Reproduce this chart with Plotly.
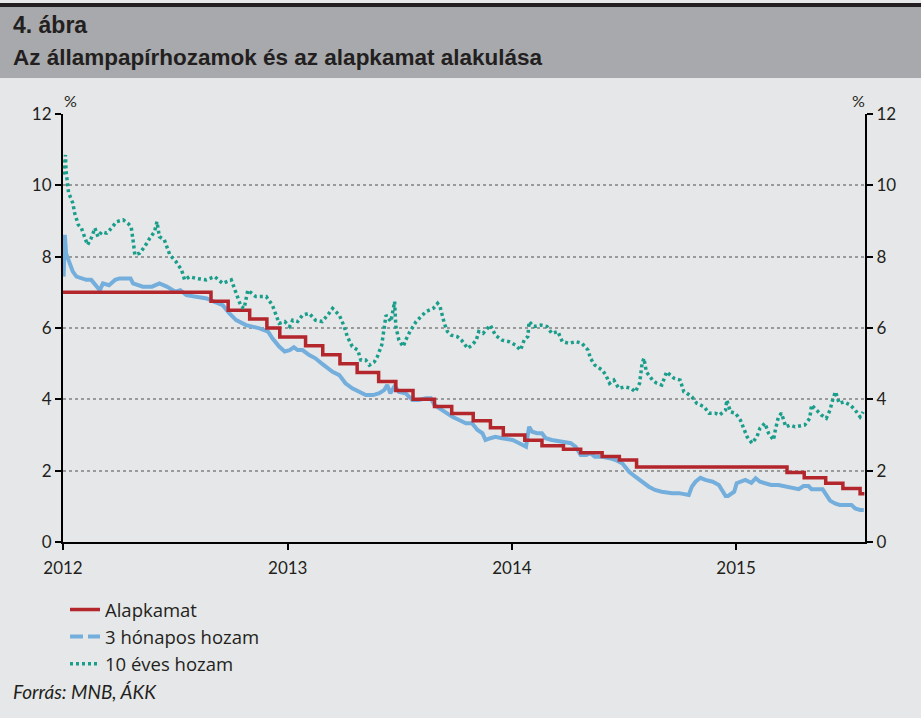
import plotly.graph_objects as go

# ---------------- data ----------------
base_dates = ["2012-01-01", "2012-08-29", "2012-09-26", "2012-10-31", "2012-11-28", "2012-12-19",
              "2013-01-30", "2013-02-27", "2013-03-27", "2013-04-24", "2013-05-29", "2013-06-26",
              "2013-07-24", "2013-08-28", "2013-09-25", "2013-10-30", "2013-11-27", "2013-12-18",
              "2014-01-22", "2014-02-19", "2014-03-26", "2014-04-23", "2014-05-28", "2014-06-25",
              "2014-07-23", "2015-03-25", "2015-04-22", "2015-05-27", "2015-06-24", "2015-07-22",
              "2015-07-29"]
base_rate = [7.00, 6.75, 6.50, 6.25, 6.00, 5.75,
             5.50, 5.25, 5.00, 4.75, 4.50, 4.25,
             4.00, 3.80, 3.60, 3.40, 3.20, 3.00,
             2.85, 2.70, 2.60, 2.50, 2.40, 2.30,
             2.10, 1.95, 1.80, 1.65, 1.50, 1.35,
             1.35]

t3m_dates = ["2012-01-02", "2012-01-04", "2012-01-06", "2012-01-12", "2012-01-17", "2012-01-23",
             "2012-01-31", "2012-02-08", "2012-02-16", "2012-02-24", "2012-03-01", "2012-03-06",
             "2012-03-16", "2012-03-26", "2012-04-02", "2012-04-20", "2012-04-24", "2012-05-10",
             "2012-05-25", "2012-06-06", "2012-06-18", "2012-07-02", "2012-07-10", "2012-07-20",
             "2012-08-06", "2012-08-22", "2012-09-03", "2012-09-17", "2012-09-28", "2012-10-09",
             "2012-10-25", "2012-11-16", "2012-11-30", "2012-12-07", "2012-12-18", "2012-12-27",
             "2013-01-04", "2013-01-11", "2013-01-17", "2013-01-25", "2013-02-05", "2013-02-15",
             "2013-02-25", "2013-03-07", "2013-03-15", "2013-03-26", "2013-04-05", "2013-04-16",
             "2013-04-26", "2013-05-08", "2013-05-20", "2013-05-30", "2013-06-07", "2013-06-12",
             "2013-06-17", "2013-06-24", "2013-07-01", "2013-07-12", "2013-07-23", "2013-08-02",
             "2013-08-14", "2013-08-22", "2013-08-28", "2013-09-05", "2013-09-16", "2013-09-26",
             "2013-10-07", "2013-10-18", "2013-10-28", "2013-11-06", "2013-11-14", "2013-11-19",
             "2013-11-27", "2013-12-05", "2013-12-16", "2014-01-02", "2014-01-13", "2014-01-24",
             "2014-01-29", "2014-02-03", "2014-02-11", "2014-02-19", "2014-02-25", "2014-03-07",
             "2014-03-24", "2014-04-07", "2014-04-15", "2014-04-23", "2014-05-02", "2014-05-09",
             "2014-05-16", "2014-05-28", "2014-06-09", "2014-06-19", "2014-06-30", "2014-07-11",
             "2014-07-21", "2014-08-01", "2014-08-12", "2014-08-22", "2014-09-02", "2014-09-19",
             "2014-09-30", "2014-10-16", "2014-10-21", "2014-10-27", "2014-11-04", "2014-11-12",
             "2014-11-24", "2014-12-04", "2014-12-09", "2014-12-15", "2014-12-19", "2014-12-29",
             "2015-01-02", "2015-01-08", "2015-01-16", "2015-01-26", "2015-02-02", "2015-02-09",
             "2015-02-17", "2015-02-27", "2015-03-11", "2015-03-23", "2015-04-02", "2015-04-13",
             "2015-04-21", "2015-04-29", "2015-05-04", "2015-05-22", "2015-05-28", "2015-06-03",
             "2015-06-11", "2015-06-19", "2015-07-08", "2015-07-14", "2015-07-22", "2015-07-28"]
t3m_yield = [7.44, 8.61, 8.09, 7.81, 7.58, 7.44,
             7.39, 7.35, 7.35, 7.20, 7.06, 7.25,
             7.20, 7.35, 7.39, 7.39, 7.25, 7.16,
             7.16, 7.25, 7.16, 7.02, 7.06, 6.92,
             6.88, 6.83, 6.74, 6.64, 6.41, 6.22,
             6.08, 5.99, 5.90, 5.71, 5.48, 5.34,
             5.38, 5.46, 5.38, 5.38, 5.24, 5.15,
             5.01, 4.87, 4.77, 4.68, 4.45, 4.31,
             4.21, 4.12, 4.12, 4.17, 4.26, 4.40,
             4.17, 4.37, 4.21, 4.17, 3.98, 3.98,
             4.03, 4.03, 3.84, 3.75, 3.65, 3.51,
             3.42, 3.33, 3.33, 3.14, 3.05, 2.86,
             2.91, 2.95, 2.91, 2.86, 2.77, 2.67,
             3.23, 3.09, 3.05, 3.05, 2.91, 2.86,
             2.81, 2.77, 2.67, 2.44, 2.44, 2.49,
             2.39, 2.39, 2.35, 2.30, 2.20, 1.97,
             1.83, 1.69, 1.55, 1.46, 1.41, 1.37,
             1.37, 1.32, 1.55, 1.69, 1.80, 1.74,
             1.69, 1.60, 1.46, 1.29, 1.29, 1.41,
             1.65, 1.69, 1.74, 1.66, 1.79, 1.69,
             1.66, 1.60, 1.60, 1.55, 1.53, 1.48,
             1.57, 1.57, 1.48, 1.48, 1.32, 1.16,
             1.08, 1.04, 1.04, 0.94, 0.90, 0.90]

t10y_dates = ["2012-01-02", "2012-01-03", "2012-01-05", "2012-01-06", "2012-01-09", "2012-01-10",
              "2012-01-17", "2012-01-20", "2012-01-26", "2012-01-31", "2012-02-05", "2012-02-10",
              "2012-02-16", "2012-02-22", "2012-02-27", "2012-03-04", "2012-03-12", "2012-03-20",
              "2012-03-28", "2012-04-08", "2012-04-16", "2012-04-21", "2012-04-24", "2012-04-27",
              "2012-05-05", "2012-05-13", "2012-05-21", "2012-05-29", "2012-06-02", "2012-06-06",
              "2012-06-14", "2012-06-23", "2012-07-03", "2012-07-12", "2012-07-17", "2012-07-25",
              "2012-08-05", "2012-08-21", "2012-09-04", "2012-09-17", "2012-10-01", "2012-10-09",
              "2012-10-17", "2012-10-22", "2012-10-28", "2012-11-10", "2012-11-27", "2012-12-07",
              "2012-12-13", "2012-12-18", "2012-12-27", "2013-01-04", "2013-01-09", "2013-01-17",
              "2013-01-25", "2013-02-05", "2013-02-15", "2013-02-26", "2013-03-07", "2013-03-15",
              "2013-03-26", "2013-04-03", "2013-04-08", "2013-04-16", "2013-04-25", "2013-04-30",
              "2013-05-08", "2013-05-14", "2013-05-22", "2013-05-27", "2013-06-03", "2013-06-07",
              "2013-06-10", "2013-06-18", "2013-06-24", "2013-06-26", "2013-07-01", "2013-07-08",
              "2013-07-12", "2013-07-19", "2013-07-29", "2013-08-06", "2013-08-14", "2013-08-26",
              "2013-09-02", "2013-09-06", "2013-09-13", "2013-09-18", "2013-09-24", "2013-10-04",
              "2013-10-11", "2013-10-21", "2013-10-28", "2013-11-04", "2013-11-08", "2013-11-15",
              "2013-11-27", "2013-12-05", "2013-12-16", "2013-12-27", "2014-01-07", "2014-01-15",
              "2014-01-21", "2014-01-27", "2014-01-29", "2014-02-06", "2014-02-17", "2014-02-27",
              "2014-03-07", "2014-03-17", "2014-03-24", "2014-04-04", "2014-04-15", "2014-04-25",
              "2014-05-05", "2014-05-09", "2014-05-16", "2014-05-28", "2014-06-03", "2014-06-09",
              "2014-06-16", "2014-06-24", "2014-07-04", "2014-07-14", "2014-07-21", "2014-07-28",
              "2014-08-01", "2014-08-04", "2014-08-08", "2014-08-18", "2014-08-25", "2014-09-02",
              "2014-09-10", "2014-09-22", "2014-10-02", "2014-10-08", "2014-10-13", "2014-10-21",
              "2014-10-29", "2014-11-10", "2014-11-18", "2014-11-28", "2014-12-05", "2014-12-15",
              "2014-12-17", "2014-12-23", "2014-12-31", "2015-01-08", "2015-01-13", "2015-01-19",
              "2015-01-27", "2015-02-04", "2015-02-09", "2015-02-17", "2015-02-23", "2015-03-03",
              "2015-03-06", "2015-03-11", "2015-03-16", "2015-03-23", "2015-03-30", "2015-04-07",
              "2015-04-23", "2015-05-01", "2015-05-04", "2015-05-12", "2015-05-20", "2015-05-28",
              "2015-06-03", "2015-06-08", "2015-06-12", "2015-06-18", "2015-06-26", "2015-07-06",
              "2015-07-14", "2015-07-22", "2015-07-27"]
t10y_yield = [10.30, 10.60, 10.85, 10.40, 10.00, 9.80,
              9.50, 9.22, 8.89, 8.80, 8.56, 8.33,
              8.52, 8.80, 8.56, 8.70, 8.66, 8.80,
              8.98, 9.03, 8.93, 8.84, 8.47, 8.05,
              8.10, 8.28, 8.51, 8.70, 8.98, 8.56,
              8.47, 8.05, 7.86, 7.63, 7.35, 7.44,
              7.39, 7.35, 7.44, 7.25, 7.35, 6.97,
              6.60, 6.55, 7.06, 6.88, 6.88, 6.64,
              6.36, 6.13, 6.18, 6.04, 6.22, 6.18,
              6.36, 6.41, 6.22, 6.18, 6.36, 6.55,
              6.36, 6.04, 5.76, 5.48, 5.38, 5.10,
              5.10, 4.96, 5.05, 5.20, 5.52, 5.94,
              6.36, 6.18, 6.74, 6.04, 5.66, 5.48,
              5.66, 5.90, 6.18, 6.32, 6.46, 6.55,
              6.69, 6.60, 6.13, 5.90, 5.80, 5.76,
              5.66, 5.43, 5.52, 5.66, 5.90, 5.85,
              6.08, 5.80, 5.66, 5.62, 5.52, 5.38,
              5.66, 5.76, 6.18, 6.04, 6.08, 6.04,
              5.85, 5.90, 5.62, 5.57, 5.62, 5.57,
              5.38, 5.15, 4.96, 4.82, 4.68, 4.45,
              4.54, 4.31, 4.35, 4.31, 4.21, 4.45,
              5.01, 5.15, 4.77, 4.54, 4.45, 4.40,
              4.77, 4.59, 4.54, 4.21, 4.17, 4.07,
              3.89, 3.79, 3.61, 3.61, 3.56, 3.70,
              3.98, 3.65, 3.61, 3.42, 3.19, 2.95,
              2.77, 2.95, 3.19, 3.33, 3.05, 2.86,
              3.14, 3.51, 3.61, 3.23, 3.28, 3.23,
              3.28, 3.47, 3.84, 3.70, 3.56, 3.47,
              3.70, 4.03, 4.21, 3.89, 3.93, 3.84,
              3.70, 3.51, 3.65]

y_ticks = [0, 2, 4, 6, 8, 10, 12]
x_ticks = ["2012-01-01", "2013-01-01", "2014-01-01", "2015-01-01"]
x_tick_labels = ["2012", "2013", "2014", "2015"]

series_names = ["Alapkamat", "3 hónapos hozam", "10 éves hozam"]
title_num = "4. ábra"
title_text = "Az állampapírhozamok és az alapkamat alakulása"
source_text = "Forrás: MNB, ÁKK"

# ---------------- styles ----------------
RED = "#b3262c"
BLUE = "#74aedc"
TEAL = "#1a9e8c"
BG = "#e6e7e8"
BAND = "#a7a9ac"
TXT = "#231f20"
FONT = "Lato, 'Open Sans', sans-serif"
LFONT = "'Open Sans', Lato, sans-serif"
TFONT = "'Liberation Sans Narrow', 'Arial Narrow', 'Liberation Sans', sans-serif"

fig = go.Figure()

fig.add_trace(go.Scatter(x=t3m_dates, y=t3m_yield, mode="lines", name=series_names[1],
                         line=dict(color=BLUE, width=4), showlegend=False))
fig.add_trace(go.Scatter(x=base_dates, y=base_rate, mode="lines", name=series_names[0],
                         line=dict(color=RED, width=3.5, shape="hv"), legendrank=1))
fig.add_trace(go.Scatter(x=[None], y=[None], mode="lines", name=series_names[1],
                         line=dict(color=BLUE, width=4, dash="13px,5px"), legendrank=2))
fig.add_trace(go.Scatter(x=t10y_dates, y=t10y_yield, mode="lines", name=series_names[2],
                         yaxis="y2",
                         line=dict(color=TEAL, width=3.5, dash="3px,3px"), legendrank=3))

pw = 802.0
ph = 428.0
def px(xp):
    return (xp - 63) / pw
def py(yp):
    return (542 - yp) / ph

fig.update_layout(
    width=921, height=718,
    margin=dict(l=63, r=56, t=114, b=176),
    paper_bgcolor=BG, plot_bgcolor=BG,
    font=dict(family=FONT, color=TXT, size=17),
    showlegend=True,
    legend=dict(x=px(65), y=py(591), xanchor="left", yanchor="top",
                bgcolor="rgba(0,0,0,0)", font=dict(size=18.5, family=LFONT, color=TXT),
                tracegroupgap=0, itemwidth=30),
    xaxis=dict(type="date", range=["2012-01-01", "2015-07-30"],
               tickvals=x_ticks, ticktext=x_tick_labels,
               showgrid=False, zeroline=False,
               showline=True, linecolor="#000000", linewidth=2,
               ticks="outside", ticklen=6, tickwidth=1.5, tickcolor="#000000",
               ticklabelstandoff=4,
               tickfont=dict(size=17, family=FONT, color=TXT)),
    yaxis=dict(range=[0, 12], tickvals=y_ticks,
               showgrid=True, gridcolor="#9a9a9a", griddash="dot", gridwidth=1.5,
               zeroline=False,
               showline=True, linecolor="#000000", linewidth=2,
               ticks="outside", ticklen=6, tickwidth=1.5, tickcolor="#000000",
               tickfont=dict(size=17, family=FONT, color=TXT)),
    yaxis2=dict(range=[0, 12], tickvals=y_ticks, overlaying="y", side="right",
                showgrid=False, zeroline=False,
                showline=True, linecolor="#000000", linewidth=2,
                ticks="outside", ticklen=6, tickwidth=1.5, tickcolor="#000000",
                tickfont=dict(size=17, family=FONT, color=TXT)),
    shapes=[
        dict(type="rect", xref="paper", yref="paper", x0=px(-5), x1=px(930),
             y0=py(78), y1=py(7), fillcolor=BAND, line=dict(width=0), layer="below"),
        dict(type="rect", xref="paper", yref="paper", x0=px(-5), x1=px(930),
             y0=py(7), y1=py(3), fillcolor="#231f20", line=dict(width=0), layer="below"),
    ],
    annotations=[
        dict(text="<b>" + title_num + "</b>", xref="paper", yref="paper", x=px(11), y=py(25),
             xanchor="left", yanchor="middle", showarrow=False,
             font=dict(size=23, family=TFONT, color=TXT)),
        dict(text="<b>" + title_text + "</b>", xref="paper", yref="paper", x=px(11), y=py(57),
             xanchor="left", yanchor="middle", showarrow=False,
             font=dict(size=22.5, family=TFONT, color=TXT)),
        dict(text="%", xref="paper", yref="paper", x=px(70), y=py(101),
             xanchor="center", yanchor="middle", showarrow=False,
             font=dict(size=16, family=FONT, color=TXT)),
        dict(text="%", xref="paper", yref="paper", x=px(858), y=py(101),
             xanchor="center", yanchor="middle", showarrow=False,
             font=dict(size=16, family=FONT, color=TXT)),
        dict(text="<i>" + source_text + "</i>", xref="paper", yref="paper", x=px(11), y=py(691),
             xanchor="left", yanchor="middle", showarrow=False,
             font=dict(size=19, family=FONT, color=TXT)),
    ],
)

fig.write_html("out.html", config={"displayModeBar": False},
               post_script="document.body.style.margin='0';")
